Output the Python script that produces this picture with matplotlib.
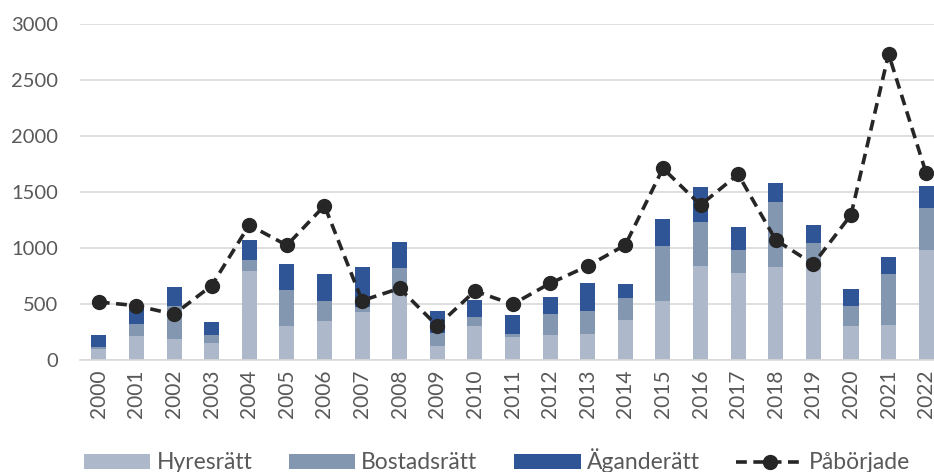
import matplotlib
matplotlib.use('Agg')
import matplotlib.pyplot as plt
import numpy as np

years = [str(y) for y in range(2000, 2023)]

# bar segments, stacked bottom to top
hyresratt = [95, 217, 187, 152, 797, 307, 351, 426, 600, 128, 307, 205,
             223, 235, 357, 527, 842, 777, 830, 833, 304, 313, 982]
bostadsratt = [21, 104, 293, 68, 96, 318, 176, 44, 224, 116, 80, 24,
               188, 205, 197, 491, 387, 205, 578, 209, 178, 452, 375]
aganderatt = [104, 149, 170, 119, 175, 229, 241, 357, 233, 193, 149, 173,
              151, 250, 122, 244, 313, 206, 169, 163, 152, 152, 194]
paborjade = [518, 485, 408, 664, 1205, 1024, 1378, 530, 640, 304, 616, 497,
             685, 839, 1027, 1711, 1384, 1658, 1071, 857, 1295, 2732, 1667]

plt.rcParams['font.family'] = ['Lato', 'DejaVu Sans']

fig = plt.figure(figsize=(9.34, 4.72), dpi=100)
ax = fig.add_axes([80 / 934, 112 / 472, 865 / 934, 336 / 472])

x = np.arange(len(years))
w = 0.4
b1 = np.array(hyresratt)
b2 = b1 + np.array(bostadsratt)

h1 = ax.bar(x, hyresratt, w, color='#adb9ca', label='Hyresrätt', zorder=2)
h2 = ax.bar(x, bostadsratt, w, bottom=b1, color='#8497b0', label='Bostadsrätt', zorder=2)
h3 = ax.bar(x, aganderatt, w, bottom=b2, color='#2f5597', label='Äganderätt', zorder=2)
h4, = ax.plot(x, paborjade, color='#262626', lw=2.6, ls=(0, (3, 1.8)),
              marker='o', ms=10, label='Påbörjade', zorder=3)

ax.set_xlim(-0.5, len(years) - 0.5)
ax.set_ylim(0, 3000)
ax.set_yticks(range(0, 3001, 500))
ax.set_xticks(x)
ax.set_xticklabels(years, rotation=90)

ax.grid(axis='y', color='#d9d9d9', lw=1.2, zorder=0)
for s in ['top', 'right', 'left']:
    ax.spines[s].set_visible(False)
ax.spines['bottom'].set_color('#d9d9d9')
ax.spines['bottom'].set_linewidth(1.2)
ax.tick_params(axis='y', length=0, pad=16, labelsize=14.5, labelcolor='#595959')
ax.tick_params(axis='x', length=0, pad=7, labelsize=15, labelcolor='#595959')

fig.legend(handles=[h1, h2, h3, h4], loc='center',
           bbox_to_anchor=(497 / 934, 1 - 461 / 472), ncol=4,
           frameon=False, fontsize=16.5, handlelength=2.9, handleheight=0.6,
           handletextpad=0.26, columnspacing=1.6, labelcolor='#595959')

fig.savefig('out.png', dpi=100)
